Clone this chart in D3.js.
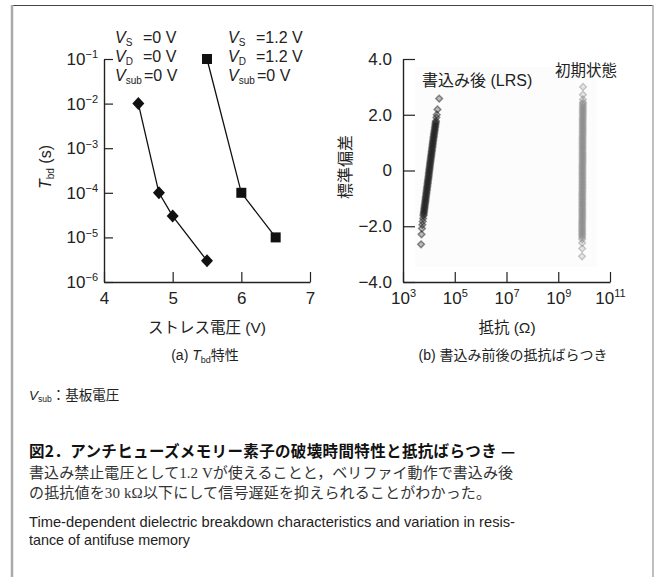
<!DOCTYPE html>
<html>
<head>
<meta charset="utf-8">
<script src="https://cdn.jsdelivr.net/npm/d3@7"></script>
<style>
body { margin: 0; background: #fff; }
text { font-family: 'Liberation Sans', 'Noto Sans CJK JP', sans-serif; fill: #222; }
.jp { font-family: 'Noto Sans CJK JP', sans-serif; }
.body { font-family: 'Liberation Serif', 'Noto Sans CJK JP', serif; }
</style>
</head>
<body>
<script>
var w = 658
var h = 577

// (a) breakdown time vs stress voltage
var voltsA = [4.5, 4.8, 5.0, 5.5]
var tbdA = [1e-2, 1e-4, 3e-5, 3e-6]
var voltsB = [5.5, 6.0, 6.5]
var tbdB = [1e-1, 1e-4, 1e-5]
var xTicksA = [4, 5, 6, 7]
var yExpA = [-6, -5, -4, -3, -2, -1]

// (b) resistance distribution, normal probability plot
var lrsSigma = [-2.65, -2.29, -2.08, -1.95, -1.83, -1.72, -1.62, -1.52, -1.42, -1.32, -1.22, -1.12,
    -1.02, -0.92, -0.82, -0.72, -0.62, -0.52, -0.42, -0.32, -0.22, -0.12, -0.02, 0.08, 0.18, 0.28,
    0.38, 0.48, 0.58, 0.68, 0.78, 0.88, 0.98, 1.08, 1.18, 1.28, 1.38, 1.48, 1.58, 1.68, 1.78, 1.90,
    2.00, 2.19, 2.58]
var lrsKohm = [5.0, 5.2, 5.4, 5.6, 5.8, 6.0, 6.2, 6.4, 6.6, 6.8, 7.0, 7.3,
    7.5, 7.7, 8.0, 8.3, 8.5, 8.8, 9.1, 9.4, 9.7, 10.0, 10.3, 10.6, 11.0, 11.3,
    11.7, 12.1, 12.5, 12.9, 13.3, 13.8, 14.2, 14.7, 15.2, 15.7, 16.3, 16.9, 17.5, 18.1, 18.7, 19.5,
    20.2, 21.5, 25.0]
// dense core of the LRS band
var lrsCoreSigma = [-1.57, -1.47, -1.37, -1.27, -1.17, -1.07, -0.97, -0.87, -0.77, -0.67, -0.57, -0.47,
    -0.37, -0.27, -0.17, -0.07, 0.03, 0.13, 0.23, 0.33, 0.43, 0.53, 0.63, 0.73, 0.83, 0.93, 1.03,
    1.13, 1.23, 1.33, 1.43, 1.53, 1.63, 1.73]
var lrsCoreKohm = [6.3, 6.5, 6.7, 6.9, 7.2, 7.4, 7.6, 7.9, 8.1, 8.4, 8.7, 9.0,
    9.2, 9.6, 9.9, 10.1, 10.5, 10.8, 11.1, 11.5, 11.9, 12.3, 12.7, 13.1, 13.6, 14.0, 14.4,
    14.9, 15.5, 16.0, 16.6, 17.2, 17.8, 18.4]
var initSigma = [3.00, 2.72, 2.55, 2.45, 2.35, 2.25, 2.15, 2.05, 1.95, 1.85, 1.75, 1.65, 1.55, 1.45,
    1.35, 1.25, 1.15, 1.05, 0.95, 0.85, 0.75, 0.65, 0.55, 0.45, 0.35, 0.25, 0.15, 0.05, -0.05,
    -0.15, -0.25, -0.35, -0.45, -0.55, -0.65, -0.75, -0.85, -0.95, -1.05, -1.15, -1.25, -1.35,
    -1.45, -1.55, -1.65, -1.75, -1.85, -1.95, -2.05, -2.15, -2.25, -2.35, -2.47, -2.60, -2.80, -3.08]
var initGohm = [9.1, 9.0, 9.0, 9.0, 8.9, 8.9, 8.9, 8.9, 8.9, 8.8, 8.8, 8.8, 8.8, 8.8,
    8.8, 8.7, 8.7, 8.7, 8.7, 8.7, 8.7, 8.7, 8.7, 8.7, 8.7, 8.7, 8.6, 8.6, 8.6,
    8.6, 8.6, 8.6, 8.6, 8.6, 8.6, 8.6, 8.5, 8.5, 8.5, 8.5, 8.5, 8.5,
    8.5, 8.5, 8.5, 8.5, 8.4, 8.4, 8.4, 8.4, 8.4, 8.4, 8.4, 8.4, 8.4, 8.3]
// dense core of the initial-state band
var initCoreSigma = [2.40, 2.30, 2.20, 2.10, 2.00, 1.90, 1.80, 1.70, 1.60, 1.50, 1.40, 1.30, 1.20,
    1.10, 1.00, 0.90, 0.80, 0.70, 0.60, 0.50, 0.40, 0.30, 0.20, 0.10, 0.00, -0.10, -0.20, -0.30,
    -0.40, -0.50, -0.60, -0.70, -0.80, -0.90, -1.00, -1.10, -1.20, -1.30, -1.40, -1.50, -1.60,
    -1.70, -1.80, -1.90, -2.00, -2.10, -2.20, -2.30, -2.40]
var initCoreGohm = [9.0, 9.0, 8.9, 8.9, 8.9, 8.9, 8.8, 8.8, 8.8, 8.8, 8.8, 8.8, 8.7,
    8.7, 8.7, 8.7, 8.7, 8.7, 8.7, 8.7, 8.7, 8.7, 8.6, 8.6, 8.6, 8.6, 8.6, 8.6,
    8.6, 8.6, 8.6, 8.6, 8.5, 8.5, 8.5, 8.5, 8.5, 8.5, 8.5, 8.5, 8.5,
    8.5, 8.4, 8.4, 8.4, 8.4, 8.4, 8.4, 8.4]
var xExpB = [3, 5, 7, 9, 11]
var yTicksB = [-4, -2, 0, 2, 4]

var svg = d3.select("body")
    .append("svg")
    .attr("width", w)
    .attr("height", h)

// frame
svg.append("line").attr("x1", 12).attr("x2", 653).attr("y1", 5.5).attr("y2", 5.5)
    .attr("stroke", "#444").attr("stroke-width", 1)
svg.append("line").attr("x1", 12).attr("x2", 12).attr("y1", 5).attr("y2", h)
    .attr("stroke", "#aaa").attr("stroke-width", 2.5)
svg.append("line").attr("x1", 653).attr("x2", 653).attr("y1", 5).attr("y2", h)
    .attr("stroke", "#aaa").attr("stroke-width", 1.5)

function styleAxis(g, size) {
    g.attr("font-size", size).attr("font-family", null)
    g.select(".domain").attr("stroke", "#222").attr("stroke-width", 1.4)
    g.selectAll(".tick line").attr("stroke", "#222").attr("stroke-width", 1.2)
    g.selectAll(".tick text").attr("fill", "#222")
}

function powLabel(sel, supSize) {
    sel.selectAll(".tick text").each(function (d) {
        var e = Math.round(Math.log10(d))
        var t = d3.select(this).text("")
        t.append("tspan").text("10")
        t.append("tspan").attr("dy", "-0.6em").attr("font-size", supSize)
            .text(e < 0 ? "\u2212" + (-e) : e)
    })
}

// ---------- (a) ----------
var xA = d3.scaleLinear().domain([4, 7]).range([104, 310])
var yA = d3.scaleLog().domain([1e-6, 1e-1]).range([282, 59])

var gxA = svg.append("g").attr("transform", "translate(0,282)")
    .call(d3.axisBottom(xA).tickValues(xTicksA).tickFormat(d3.format("d"))
        .tickSizeInner(-10).tickSizeOuter(0).tickPadding(10))
styleAxis(gxA, 17)

var gyA = svg.append("g").attr("transform", "translate(104,0)")
    .call(d3.axisLeft(yA).tickValues(yExpA.map(function (e) { return Math.pow(10, e) }))
        .tickSizeInner(-9).tickSizeOuter(0).tickPadding(6))
styleAxis(gyA, 17)
powLabel(gyA, "11px")

var line = d3.line()
    .x(function (d) { return xA(d[0]) })
    .y(function (d) { return yA(d[1]) })

var ptsA = d3.zip(voltsA, tbdA)
var ptsB = d3.zip(voltsB, tbdB)

svg.append("path").attr("d", line(ptsA)).attr("fill", "none").attr("stroke", "#111").attr("stroke-width", 1.3)
svg.append("path").attr("d", line(ptsB)).attr("fill", "none").attr("stroke", "#111").attr("stroke-width", 1.3)

svg.selectAll(".dia").data(ptsA).enter().append("path")
    .attr("d", "M0,-6.5L6,0L0,6.5L-6,0Z")
    .attr("transform", function (d) { return "translate(" + xA(d[0]) + "," + yA(d[1]) + ")" })
    .attr("fill", "#111")
svg.selectAll(".sq").data(ptsB).enter().append("rect")
    .attr("x", function (d) { return xA(d[0]) - 5 })
    .attr("y", function (d) { return yA(d[1]) - 5 })
    .attr("width", 10).attr("height", 10)
    .attr("fill", "#111")

function subLabel(x, y, sub, rest, restX) {
    var t = svg.append("text").attr("x", x).attr("y", y).attr("font-size", 16)
    t.append("tspan").attr("font-style", "italic").text("V")
    t.append("tspan").attr("font-size", 10).attr("dy", 3).text(sub)
    svg.append("text").attr("x", restX).attr("y", y).attr("font-size", 16).text(rest)
}

subLabel(115, 43, "S", "=0 V", 143)
subLabel(115, 62, "D", "=0 V", 143)
subLabel(115, 81, "sub", "=0 V", 144)
subLabel(228, 43, "S", "=1.2 V", 256)
subLabel(228, 62, "D", "=1.2 V", 256)
subLabel(228, 81, "sub", "=0 V", 257)

var ytA = svg.append("text").attr("transform", "translate(51,167) rotate(-90)")
    .attr("text-anchor", "middle").attr("font-size", 16)
ytA.append("tspan").attr("font-style", "italic").text("T")
ytA.append("tspan").attr("font-size", 10).attr("dy", 3).text("bd")
ytA.append("tspan").attr("dy", -3).text(" (s)")

svg.append("text").attr("x", 207).attr("y", 333).attr("text-anchor", "middle")
    .attr("font-size", 15.5).text("ストレス電圧 (V)")

var capA = svg.append("text").attr("x", 205).attr("y", 360).attr("text-anchor", "middle").attr("font-size", 14)
capA.append("tspan").text("(a) ")
capA.append("tspan").attr("font-style", "italic").text("T")
capA.append("tspan").attr("font-size", 9).attr("dy", 3).text("bd")
capA.append("tspan").attr("dy", -3).text("特性")

// ---------- (b) ----------
var xB = d3.scaleLog().domain([1e3, 1e11]).range([403, 610])
var yB = d3.scaleLinear().domain([-4, 4]).range([282, 59])

svg.append("rect").attr("x", 415).attr("y", 67).attr("width", 182).attr("height", 200).attr("fill", "#fcfcfc")

var gxB = svg.append("g").attr("transform", "translate(0,282)")
    .call(d3.axisBottom(xB).tickValues(xExpB.map(function (e) { return Math.pow(10, e) }))
        .tickSizeInner(-10).tickSizeOuter(0).tickPadding(10))
styleAxis(gxB, 17)
powLabel(gxB, "11px")

var gyB = svg.append("g").attr("transform", "translate(403,0)")
    .call(d3.axisLeft(yB).tickValues(yTicksB)
        .tickFormat(function (d) { return d === 0 ? "0" : d3.format(".1f")(d) })
        .tickSizeInner(-12).tickSizeOuter(0).tickPadding(11))
styleAxis(gyB, 17)

var diamond = "M0,-3.4L3.4,0L0,3.4L-3.4,0Z"

var lrsPts = d3.zip(lrsKohm, lrsSigma).concat(d3.zip(lrsCoreKohm, lrsCoreSigma))
var initPts = d3.zip(initGohm, initSigma).concat(d3.zip(initCoreGohm, initCoreSigma))

svg.selectAll(".lrs").data(lrsPts).enter().append("path")
    .attr("d", diamond)
    .attr("transform", function (d) { return "translate(" + xB(d[0] * 1e3) + "," + yB(d[1]) + ")" })
    .attr("fill", "#222").attr("fill-opacity", 0.3)
    .attr("stroke", "#222").attr("stroke-opacity", 0.5).attr("stroke-width", 1.4)

svg.selectAll(".init").data(initPts).enter().append("path")
    .attr("d", diamond)
    .attr("transform", function (d) { return "translate(" + xB(d[0] * 1e9) + "," + yB(d[1]) + ")" })
    .attr("fill", "#888").attr("fill-opacity", 0.2)
    .attr("stroke", "#888").attr("stroke-opacity", 0.45).attr("stroke-width", 1.3)

svg.append("text").attr("x", 422).attr("y", 86).attr("font-size", 16).text("書込み後 (LRS)")
svg.append("text").attr("x", 555).attr("y", 76).attr("font-size", 15.5).text("初期状態")

svg.append("text").attr("transform", "translate(351,167) rotate(-90)")
    .attr("text-anchor", "middle").attr("font-size", 16).text("標準偏差")

svg.append("text").attr("x", 507).attr("y", 333).attr("text-anchor", "middle")
    .attr("font-size", 15.5).text("抵抗 (Ω)")

svg.append("text").attr("x", 513).attr("y", 360).attr("text-anchor", "middle")
    .attr("font-size", 14).text("(b) 書込み前後の抵抗ばらつき")

// ---------- notes and caption ----------
var note = svg.append("text").attr("x", 29).attr("y", 400).attr("font-size", 13.5)
note.append("tspan").attr("font-style", "italic").text("V")
note.append("tspan").attr("font-size", 8.5).attr("dy", 2).text("sub")
note.append("tspan").attr("dy", -2).text("：基板電圧")

svg.append("text").attr("class", "jp").attr("x", 29).attr("y", 457).attr("font-size", 15.5)
    .attr("font-weight", 700).attr("textLength", 486).attr("lengthAdjust", "spacing")
    .style("fill", "#111")
    .text("図2．アンチヒューズメモリー素子の破壊時間特性と抵抗ばらつき —")
svg.append("text").attr("class", "body").attr("x", 29).attr("y", 478).attr("font-size", 15)
    .attr("textLength", 484).attr("lengthAdjust", "spacing").style("fill", "#333")
    .text("書込み禁止電圧として1.2 Vが使えることと，ベリファイ動作で書込み後")
svg.append("text").attr("class", "body").attr("x", 29).attr("y", 498).attr("font-size", 15)
    .attr("textLength", 462).attr("lengthAdjust", "spacing").style("fill", "#333")
    .text("の抵抗値を30 kΩ以下にして信号遅延を抑えられることがわかった。")
svg.append("text").attr("x", 29).attr("y", 527).attr("font-size", 14.5)
    .attr("textLength", 486).attr("lengthAdjust", "spacingAndGlyphs").style("fill", "#222")
    .text("Time-dependent dielectric breakdown characteristics and variation in resis-")
svg.append("text").attr("x", 29).attr("y", 545).attr("font-size", 14.5)
    .attr("textLength", 161).attr("lengthAdjust", "spacingAndGlyphs").style("fill", "#222")
    .text("tance of antifuse memory")
</script>
</body>
</html>
